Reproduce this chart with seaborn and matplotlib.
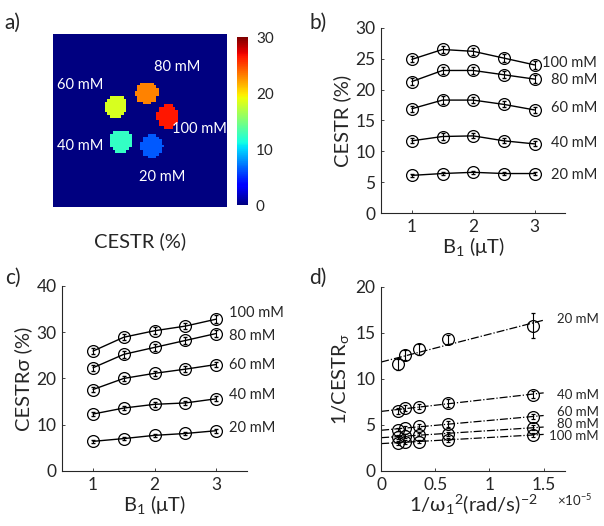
import numpy as np
import pandas as pd
import matplotlib
matplotlib.use("Agg")
import matplotlib.pyplot as plt
import seaborn as sns

# concentrations and B1 levels
concs = ['20 mM', '40 mM', '60 mM', '80 mM', '100 mM']
b1 = [1, 1.5, 2, 2.5, 3]
inv_w1_sq = [0.155, 0.224, 0.349, 0.621, 1.397]  # x 1e-5 (rad/s)^-2, B1 = 3 ... 1 uT

# CESTR (%) vs B1, one row per concentration
cestr = [
    [6.1, 6.4, 6.6, 6.4, 6.4],
    [11.7, 12.4, 12.5, 11.7, 11.2],
    [16.9, 18.3, 18.3, 17.6, 16.7],
    [21.3, 23.1, 23.1, 22.4, 21.7],
    [24.9, 26.5, 26.2, 25.1, 24.0],
]
cestr_err = [
    [0.2, 0.2, 0.2, 0.2, 0.2],
    [0.4, 0.5, 0.4, 0.4, 0.4],
    [0.5, 0.6, 0.5, 0.5, 0.5],
    [0.5, 0.6, 0.6, 0.6, 0.6],
    [0.5, 0.6, 0.6, 0.6, 0.6],
]

# CESTR_sigma (%) vs B1
cestr_sig = [
    [6.4, 7.0, 7.7, 8.1, 8.7],
    [12.3, 13.6, 14.4, 14.7, 15.6],
    [17.6, 20.0, 21.1, 22.0, 23.0],
    [22.3, 25.2, 26.7, 28.2, 29.7],
    [25.9, 28.9, 30.3, 31.3, 32.8],
]
cestr_sig_err = [
    [0.3, 0.3, 0.3, 0.3, 0.4],
    [0.5, 0.5, 0.5, 0.5, 0.5],
    [0.6, 0.6, 0.6, 0.6, 0.6],
    [0.6, 0.7, 0.7, 0.7, 0.8],
    [0.6, 0.7, 0.7, 0.7, 0.8],
]

# 1/CESTR_sigma vs 1/w1^2
inv_sig = [
    [11.6, 12.6, 13.2, 14.3, 15.8],
    [6.5, 6.85, 7.0, 7.4, 8.3],
    [4.5, 4.7, 4.85, 5.1, 5.9],
    [3.7, 3.8, 3.95, 4.05, 4.7],
    [3.05, 3.15, 3.2, 3.4, 3.9],
]
inv_sig_err = [
    [0.6, 0.5, 0.6, 0.5, 1.4],
    [0.3, 0.3, 0.3, 0.4, 0.4],
    [0.2, 0.2, 0.2, 0.3, 0.3],
    [0.2, 0.2, 0.2, 0.2, 0.3],
    [0.2, 0.2, 0.2, 0.2, 0.2],
]

# phantom map: vial centres (grid col,row), radius and CESTR value
vial_col = [36.4, 25.0, 23.2, 34.6, 42.3]
vial_row = [41.5, 39.7, 26.8, 21.7, 30.5]
vial_rad = 4.2
vial_val = [6.4, 12.4, 18.3, 23.1, 26.5]
map_size = 64
map_label_xy = [(40.1, 52.9), (9.9, 41.5), (9.9, 18.75), (45.6, 12.1), (54.0, 35.3)]

sns.set_style('ticks')
plt.rcParams['font.family'] = ['Lato', 'DejaVu Sans']
plt.rcParams['mathtext.fontset'] = 'custom'
plt.rcParams['mathtext.rm'] = 'Lato'
plt.rcParams['mathtext.it'] = 'Lato'
plt.rcParams['axes.linewidth'] = 0.8

fig = plt.figure(figsize=(6.04, 5.26), dpi=100)
ax_a = fig.add_axes([0.0877, 0.6065, 0.288, 0.329])
cax = fig.add_axes([0.392, 0.610, 0.018, 0.319])
ax_b = fig.add_axes([0.631, 0.595, 0.305, 0.352])
ax_c = fig.add_axes([0.103, 0.1046, 0.306, 0.352])
ax_d = fig.add_axes([0.631, 0.1046, 0.305, 0.350])

# ---- a) phantom map
rr, cc = np.mgrid[0:map_size, 0:map_size] + 0.5
phantom = np.zeros((map_size, map_size))
for c0, r0, v in zip(vial_col, vial_row, vial_val):
    phantom[(rr - r0) ** 2 + (cc - c0) ** 2 <= vial_rad ** 2] = v
sns.heatmap(phantom, ax=ax_a, cbar_ax=cax, cmap='jet', vmin=0, vmax=30,
            xticklabels=False, yticklabels=False)
for (x, y), lab in zip(map_label_xy, concs):
    ax_a.text(x, y, lab, color='white', fontsize=10.5, ha='center', va='center')
cax.set_yticks([0, 10, 20, 30])
cax.tick_params(labelsize=11, length=0, pad=6)
ax_a.set_xlabel('CESTR (%)', fontsize=14.5, labelpad=18)

def style(ax):
    sns.despine(ax=ax)
    ax.tick_params(direction='in', length=2, labelsize=12.5, width=0.6, pad=4)

def draw_series(ax, x, ys, errs):
    df = pd.DataFrame([(xx, yy, c) for c, row in zip(concs, ys) for xx, yy in zip(x, row)],
                      columns=['x', 'y', 'conc'])
    sns.lineplot(data=df, x='x', y='y', hue='conc', palette=['black'] * len(concs),
                 ax=ax, legend=False, linewidth=1, marker='o', markersize=8.5,
                 markerfacecolor='none', markeredgecolor='black', markeredgewidth=0.9)
    for row, err in zip(ys, errs):
        ax.errorbar(x, row, yerr=err, fmt='none', ecolor='black', elinewidth=0.8, capsize=1.5)

# ---- b) CESTR
draw_series(ax_b, b1, cestr, cestr_err)
ax_b.set_xlim(0.5, 3.5)
ax_b.set_ylim(0, 30)
ax_b.set_xticks([1, 2, 3])
ax_b.set_yticks(range(0, 31, 5))
ax_b.set_xlabel(r'B$_1$ (μT)', fontsize=14.5, labelpad=0)
ax_b.set_ylabel('CESTR (%)', fontsize=14.5, labelpad=3)
for lab, y in zip(concs, [6.1, 11.3, 17.0, 21.6, 24.3]):
    ax_b.text(4.02, y, lab, fontsize=10.5, ha='right', va='center', clip_on=False)
style(ax_b)

# ---- c) CESTR sigma
draw_series(ax_c, b1, cestr_sig, cestr_sig_err)
ax_c.set_xlim(0.5, 3.5)
ax_c.set_ylim(0, 40)
ax_c.set_xticks([1, 2, 3])
ax_c.set_yticks(range(0, 41, 10))
ax_c.set_xlabel(r'B$_1$ (μT)', fontsize=14.5, labelpad=0)
ax_c.set_ylabel('CESTRσ (%)', fontsize=14.5, labelpad=3)
for lab, y in zip(concs, [9.2, 16.4, 23.0, 29.2, 34.1]):
    ax_c.text(3.2, y, lab, fontsize=10.5, ha='left', va='center', clip_on=False)
style(ax_c)

# ---- d) inverse plot with linear fits
for row, err in zip(inv_sig, inv_sig_err):
    ax_d.errorbar(inv_w1_sq, row, yerr=err, fmt='o', ms=8.5, mfc='none', mec='black',
                  mew=0.9, ecolor='black', elinewidth=0.8, capsize=1.5)
    slope, icpt = np.polyfit(inv_w1_sq, row, 1)
    xf = np.array([0, 1.5])
    sns.lineplot(x=xf, y=icpt + slope * xf, ax=ax_d, color='black',
                 linestyle='-.', linewidth=0.9)
ax_d.set_xlim(0, 1.7)
ax_d.set_ylim(0, 20)
ax_d.set_xticks([0, 0.5, 1, 1.5])
ax_d.set_xticklabels(['0', '0.5', '1', '1.5'])
ax_d.set_yticks([0, 5, 10, 15, 20])
ax_d.set_xlabel(r'1/ω$_1$$^2$(rad/s)$^{-2}$', fontsize=14.5, labelpad=0)
ax_d.set_ylabel(r'1/CESTR$_σ$', fontsize=14.5, labelpad=3)
for lab, y in zip(concs, [16.56, 8.2, 6.4, 5.07, 3.8]):
    ax_d.text(2.01, y, lab, fontsize=9.5, ha='right', va='center', clip_on=False)
style(ax_d)

# panel letters
for lab, (x, y) in zip(['a)', 'b)', 'c)', 'd)'],
                       [(0.008, 0.975), (0.512, 0.975), (0.008, 0.49), (0.512, 0.49)]):
    fig.text(x, y, lab, fontsize=15, ha='left', va='top')

# exponent next to the d) x label, top-aligned with it
fig.canvas.draw()
lab_bb = ax_d.xaxis.label.get_window_extent()
fig.text(557 / 604, lab_bb.y1 / fig.bbox.height, r'×10$^{-5}$', fontsize=9.5,
         ha='left', va='top')

fig.savefig('out.png', dpi=100, facecolor='white')
